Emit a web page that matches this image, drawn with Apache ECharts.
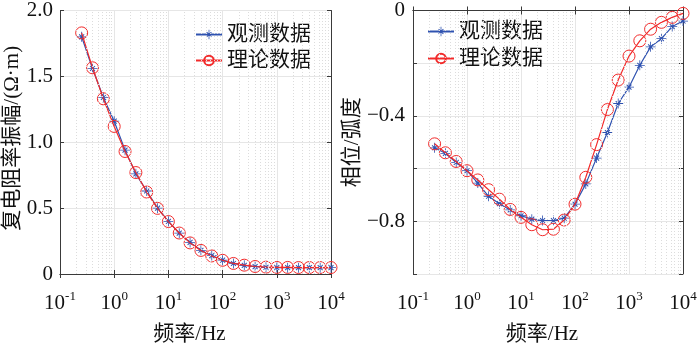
<!DOCTYPE html>
<html>
<head>
<meta charset="utf-8">
<script src="https://cdn.jsdelivr.net/npm/echarts@6/dist/echarts.min.js"></script>
<style>
html, body { margin: 0; padding: 0; background: #fff; }
#main { width: 700px; height: 350px; }
</style>
</head>
<body>
<div id="main"></div>
<script>
// frequencies (Hz)
var freq = [0.251, 0.398, 0.631, 1, 1.585, 2.512, 3.981, 6.31, 10, 15.85, 25.12, 39.81,
    63.1, 100, 158.5, 251.2, 398.1, 631, 1000, 1585, 2512, 3981, 6310, 10000];
// amplitude
var ampObs = [1.80, 1.56, 1.34, 1.16, 0.94, 0.76, 0.63, 0.50, 0.40, 0.31, 0.24, 0.18,
    0.14, 0.105, 0.08, 0.066, 0.056, 0.051, 0.049, 0.048, 0.048, 0.048, 0.048, 0.048];
var ampTheory = [1.83, 1.565, 1.33, 1.12, 0.93, 0.77, 0.622, 0.498, 0.398, 0.311, 0.236, 0.179,
    0.137, 0.104, 0.08, 0.067, 0.057, 0.052, 0.05, 0.05, 0.049, 0.049, 0.049, 0.049];
// phase
var phaseObs = [-0.521, -0.542, -0.577, -0.608, -0.655, -0.705, -0.733, -0.757, -0.779, -0.792, -0.797, -0.797,
    -0.788, -0.735, -0.658, -0.56, -0.463, -0.353, -0.291, -0.208, -0.138, -0.107, -0.061, -0.040];
var phaseTheory = [-0.506, -0.54, -0.573, -0.608, -0.643, -0.68, -0.716, -0.755, -0.785, -0.813, -0.832, -0.83,
    -0.795, -0.735, -0.633, -0.509, -0.376, -0.264, -0.173, -0.115, -0.071, -0.045, -0.026, -0.011];
var legendNames = ['观测数据', '理论数据'];
var xTickExp = ['-1', '0', '1', '2', '3', '4'];
var minorMult = [2, 3, 4, 5, 6, 7, 8, 9];

var FONT = '"Liberation Serif", "Noto Sans CJK SC", serif';
var BLUE = '#2f52b0';
var RED = '#f22a2a';
var AXIS = '#3a3a3a';
// asterisk (+ and x)
var STAR = 'path://M9.2,0L10.8,0L10.8,20L9.2,20Z M0,9.2L20,9.2L20,10.8L0,10.8Z ' +
    'M5.76,4.34L15.66,14.24L14.24,15.66L4.34,5.76Z M4.34,14.24L14.24,4.34L15.66,5.76L5.76,15.66Z';

function pairs(ys) {
    return freq.map(function (f, i) { return [f, ys[i]]; });
}

var minorLines = [];
for (var d = -1; d < 4; d++) {
    minorMult.forEach(function (m) {
        minorLines.push({ xAxis: m * Math.pow(10, d) });
    });
}

function xLabel(v) {
    var e = Math.round(Math.log(v) / Math.LN10);
    return '{b|10}{s|' + xTickExp[e + 1] + '}';
}

var chart = echarts.init(document.getElementById('main'));

function xAxes(gi) {
    return [{
        type: 'log', logBase: 10, gridIndex: gi, min: 0.1, max: 10000,
        name: '频率/Hz', nameLocation: 'middle', nameGap: 50,
        nameTextStyle: { fontFamily: FONT, fontSize: 21, color: '#111', padding: [0, 12, 0, 0] },
        axisLine: { lineStyle: { color: AXIS, width: 1 } },
        axisTick: { inside: true, length: 4, lineStyle: { color: AXIS } },
        axisLabel: {
            margin: 16, formatter: xLabel,
            rich: {
                b: { fontFamily: FONT, fontSize: 21, color: '#111' },
                s: { fontFamily: FONT, fontSize: 13, color: '#111', padding: [0, 0, 14, 0] }
            }
        },
        splitLine: { show: true, lineStyle: { color: '#e6e6e6', width: 1 } }
    }, {
        type: 'log', logBase: 10, gridIndex: gi, min: 0.1, max: 10000, position: 'top',
        axisLine: { lineStyle: { color: AXIS, width: 1 } },
        axisTick: { inside: true, length: 4, lineStyle: { color: AXIS } },
        axisLabel: { show: false },
        splitLine: { show: false }
    }];
}

function yAxisRight(gi, min, max, interval) {
    return {
        type: 'value', gridIndex: gi, min: min, max: max, interval: interval, position: 'right',
        axisLine: { show: true, lineStyle: { color: AXIS, width: 1 } },
        axisTick: { show: true, inside: true, length: 4, lineStyle: { color: AXIS } },
        axisLabel: { show: false },
        splitLine: { show: false }
    };
}

var ax0 = xAxes(0), ax1 = xAxes(1);

function mkSeries(name, data, xi, yi, isObs) {
    return {
        name: name, type: 'line', xAxisIndex: xi, yAxisIndex: yi, data: data,
        symbol: isObs ? STAR : 'circle', symbolSize: isObs ? 10 : 12, symbolKeepAspect: true,
        showAllSymbol: true, z: isObs ? 3 : 4,
        lineStyle: { color: isObs ? BLUE : RED, width: 1.2 },
        itemStyle: isObs ? { color: BLUE } : { color: 'rgba(255,255,255,0)', borderColor: RED, borderWidth: 1 },
        emphasis: { disabled: true },
        animation: false
    };
}

function minorSeries(xi, yi) {
    return {
        type: 'line', xAxisIndex: xi, yAxisIndex: yi, data: [], silent: true,
        markLine: {
            silent: true, symbol: 'none', label: { show: false }, animation: false,
            lineStyle: { color: '#dcdcdc', type: [1, 2], width: 1 },
            data: minorLines
        }
    };
}

option = {
    backgroundColor: '#fff',
    animation: false,
    grid: [
        { left: 60, right: 369, top: 7, bottom: 75 },
        { left: 413, right: 17, top: 7, bottom: 75 }
    ],
    legend: [{
        orient: 'vertical', left: 190, top: 19, itemWidth: 26, itemHeight: 12, itemGap: 5,
        data: legendNames,
        textStyle: { fontFamily: FONT, fontSize: 21, color: '#111' },
        selectedMode: false
    }, {
        orient: 'vertical', left: 422, top: 16, itemWidth: 26, itemHeight: 12, itemGap: 6,
        data: legendNames,
        textStyle: { fontFamily: FONT, fontSize: 21, color: '#111' },
        selectedMode: false
    }],
    xAxis: [ax0[0], ax0[1], ax1[0], ax1[1]],
    yAxis: [{
        type: 'value', gridIndex: 0, min: 0, max: 2, interval: 0.5,
        name: '复电阻率振幅/(Ω·m)', nameLocation: 'middle', nameGap: 36, nameRotate: 90,
        nameTextStyle: { fontFamily: FONT, fontSize: 21, color: '#111', padding: [0, 0, 0, 8] },
        axisLine: { show: true, lineStyle: { color: AXIS, width: 1 } },
        axisTick: { show: true, inside: true, length: 4, lineStyle: { color: AXIS } },
        axisLabel: {
            margin: 7, fontFamily: FONT, fontSize: 21, color: '#111',
            formatter: function (v) { return v === 0 ? '0' : v.toFixed(1); }
        },
        splitLine: { show: true, lineStyle: { color: '#e6e6e6', width: 1 } }
    }, yAxisRight(0, 0, 2, 0.5), {
        type: 'value', gridIndex: 1, min: -1, max: 0, interval: 0.2,
        name: '相位/弧度', nameLocation: 'middle', nameGap: 46, nameRotate: 90,
        nameTextStyle: { fontFamily: FONT, fontSize: 21, color: '#111' },
        axisLine: { show: true, lineStyle: { color: AXIS, width: 1 } },
        axisTick: { show: true, inside: true, length: 4, lineStyle: { color: AXIS } },
        axisLabel: {
            margin: 8, fontFamily: FONT, fontSize: 21, color: '#111',
            formatter: function (v) {
                var r = Math.round(v * 10);
                if (r === 0) return '0';
                if (r % 4 !== 0 || r === -10) return '';
                return '\u2212' + Math.abs(v).toFixed(1);
            }
        },
        splitLine: { show: true, lineStyle: { color: '#e6e6e6', width: 1 } }
    }, yAxisRight(1, -1, 0, 0.2)],
    series: [
        minorSeries(0, 0),
        minorSeries(2, 2),
        mkSeries(legendNames[0], pairs(ampObs), 0, 0, true),
        mkSeries(legendNames[1], pairs(ampTheory), 0, 0, false),
        mkSeries(legendNames[0], pairs(phaseObs), 2, 2, true),
        mkSeries(legendNames[1], pairs(phaseTheory), 2, 2, false)
    ]
};

chart.setOption(option);
</script>
</body>
</html>
